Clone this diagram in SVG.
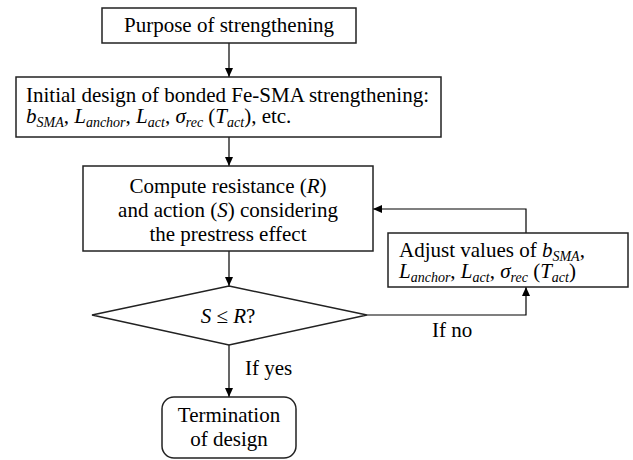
<svg xmlns="http://www.w3.org/2000/svg" width="633" height="460" viewBox="0 0 633 460">
<defs>
<marker id="arr" markerWidth="10" markerHeight="8" refX="9" refY="4" orient="auto" markerUnits="userSpaceOnUse">
<path d="M0,0 L9,4 L0,8 Z" fill="#000"/>
</marker>
</defs>
<rect width="633" height="460" fill="#fff"/>
<g id="connectors" fill="none" stroke="#000" stroke-width="1.2">
<path d="M229,43 V77" marker-end="url(#arr)"/>
<path d="M229,137 V166" marker-end="url(#arr)"/>
<path d="M229,251 V286" marker-end="url(#arr)"/>
<path d="M229,345 V397" marker-end="url(#arr)"/>
<path d="M367,315 H526 V287" marker-end="url(#arr)"/>
<path d="M526,233 V209 H373" marker-end="url(#arr)"/>
</g>
<g font-family="Liberation Serif" font-size="21" fill="#000">
<text x="245" y="375">If yes</text>
<text x="432" y="337">If no</text>
</g>
<g id="purpose">
<rect x="102" y="8" width="254" height="35" fill="#fff" stroke="#222" stroke-width="1.5"/>
<text x="229" y="32" text-anchor="middle" font-family="Liberation Serif" font-size="21">Purpose of strengthening</text>
</g>
<g id="initial" font-family="Liberation Serif" font-size="21">
<rect x="16" y="77" width="425" height="60" fill="#fff" stroke="#222" stroke-width="1.5"/>
<text x="26" y="102">Initial design of bonded Fe-SMA strengthening:</text>
<text x="26" y="123"><tspan font-style="italic">b</tspan><tspan font-style="italic" font-size="14" dy="4">SMA</tspan><tspan dy="-4">, </tspan><tspan font-style="italic">L</tspan><tspan font-style="italic" font-size="14" dy="4">anchor</tspan><tspan dy="-4">, </tspan><tspan font-style="italic">L</tspan><tspan font-style="italic" font-size="14" dy="4">act</tspan><tspan dy="-4">, </tspan><tspan font-style="italic">&#963;</tspan><tspan font-style="italic" font-size="14" dy="4">rec</tspan><tspan dy="-4"> (</tspan><tspan font-style="italic">T</tspan><tspan font-style="italic" font-size="14" dy="4">act</tspan><tspan dy="-4">), etc.</tspan></text>
</g>
<g id="compute" font-family="Liberation Serif" font-size="21" text-anchor="middle">
<rect x="83" y="166" width="290" height="85" fill="#fff" stroke="#222" stroke-width="1.5"/>
<text x="228" y="193">Compute resistance (<tspan font-style="italic">R</tspan>)</text>
<text x="228" y="217">and action (<tspan font-style="italic">S</tspan>) considering</text>
<text x="228" y="241">the prestress effect</text>
</g>
<g id="decision" font-family="Liberation Serif" font-size="21" text-anchor="middle">
<polygon points="229,286 367,315 229,345 92,315" fill="#fff" stroke="#222" stroke-width="1.5"/>
<text x="228" y="323"><tspan font-style="italic">S</tspan> &#8804; <tspan font-style="italic">R</tspan>?</text>
</g>
<g id="adjust" font-family="Liberation Serif" font-size="21">
<rect x="388" y="233" width="240" height="54" fill="#fff" stroke="#222" stroke-width="1.5"/>
<text x="399" y="257">Adjust values of <tspan font-style="italic">b</tspan><tspan font-style="italic" font-size="14" dy="4">SMA</tspan><tspan dy="-4">,</tspan></text>
<text x="399" y="278"><tspan font-style="italic">L</tspan><tspan font-style="italic" font-size="14" dy="4">anchor</tspan><tspan dy="-4">, </tspan><tspan font-style="italic">L</tspan><tspan font-style="italic" font-size="14" dy="4">act</tspan><tspan dy="-4">, </tspan><tspan font-style="italic">&#963;</tspan><tspan font-style="italic" font-size="14" dy="4">rec</tspan><tspan dy="-4"> (</tspan><tspan font-style="italic">T</tspan><tspan font-style="italic" font-size="14" dy="4">act</tspan><tspan dy="-4">)</tspan></text>
</g>
<g id="termination" font-family="Liberation Serif" font-size="21" text-anchor="middle">
<rect x="162" y="397" width="134" height="61" rx="12" fill="#fff" stroke="#222" stroke-width="1.5"/>
<text x="229" y="422">Termination</text>
<text x="229" y="446">of design</text>
</g>
</svg>
